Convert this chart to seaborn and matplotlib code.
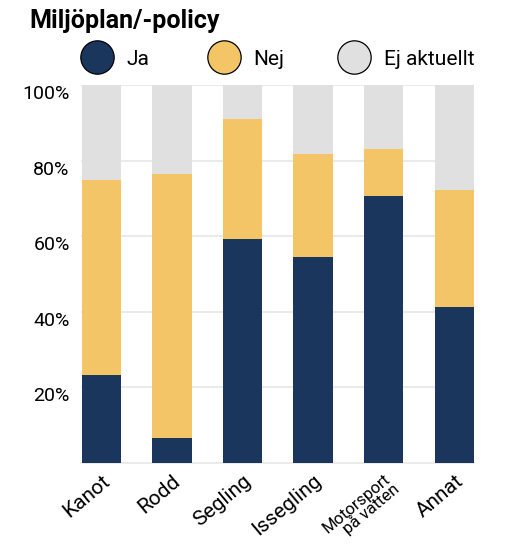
import matplotlib
matplotlib.use("Agg")
import matplotlib.pyplot as plt
from matplotlib.lines import Line2D
import seaborn as sns
import pandas as pd

categories = ["Kanot", "Rodd", "Segling", "Issegling", "Motorsport\npå vatten", "Annat"]
ja = [23.2, 6.5, 59.2, 54.4, 70.6, 41.2]
nej = [51.7, 70.0, 31.9, 27.4, 12.6, 31.0]
ej = [25.1, 23.5, 8.9, 18.2, 16.8, 27.8]
series_names = ["Ja", "Nej", "Ej aktuellt"]
colors = ["#1B365D", "#F4C566", "#E0E0E0"]
yticks = [20, 40, 60, 80, 100]
title = "Miljöplan/-policy"

sns.set_style("white")
plt.rcParams["font.family"] = ["Roboto", "DejaVu Sans"]
plt.rcParams["text.color"] = "black"
plt.rcParams["xtick.color"] = "black"
plt.rcParams["ytick.color"] = "black"

df = pd.DataFrame({"cat": categories, "ja": ja, "nej": nej, "ej": ej})
df["c1"] = df["ja"]
df["c2"] = df["ja"] + df["nej"]
df["c3"] = df["ja"] + df["nej"] + df["ej"]

fig = plt.figure(figsize=(5.05, 5.46), dpi=100)
ax = fig.add_axes([0.160, 0.1526, 0.779, 0.691])

for col, c in zip(["c3", "c2", "c1"], colors[::-1]):
    sns.barplot(data=df, x="cat", y=col, color=c, width=0.557, ax=ax,
                saturation=1, zorder=3, linewidth=0, edgecolor=c)

ax.set_ylim(0, 100)
ax.set_xlim(-0.29, 5.28)
ax.set_yticks(yticks)
ax.set_yticklabels([f"{v}%" for v in yticks], fontsize=14, va="top", color="black")
ax.yaxis.grid(True, color="#E6E6E6", linewidth=1.2, zorder=0)
ax.set_axisbelow(True)
ax.set_xlabel("")
ax.set_ylabel("")
for s in ["top", "right", "left"]:
    ax.spines[s].set_visible(False)
ax.spines["bottom"].set_color("#E6E6E6")
ax.spines["bottom"].set_linewidth(1.2)
ax.tick_params(axis="both", length=0, labelcolor="black")
ax.tick_params(axis="y", pad=8)
ax.tick_params(axis="x", pad=6)

labels = ax.get_xticklabels()
for lab in labels:
    lab.set_rotation(40)
    lab.set_ha("right")
    lab.set_rotation_mode("anchor")
    lab.set_fontsize(15)
    lab.set_color("black")
    if "\n" in lab.get_text():
        lab.set_fontsize(12)
        lab.set_linespacing(0.8)

fig.text(0.058, 0.962, title, fontsize=18, fontweight="bold", va="center", ha="left",
         color="black")

# legend: one entry per legend box, fixed column positions
W = 505.0
handle_lefts = [98 - 21.5, 225 - 21.5, 355 - 21.5]
for name, c, xl in zip(series_names, colors, handle_lefts):
    h = Line2D([0], [0], marker="o", linestyle="", markersize=24,
               markerfacecolor=c, markeredgecolor="black", markeredgewidth=0.9)
    leg = fig.legend([h], [name], loc="center left", bbox_to_anchor=(xl / W, 1 - 59 / 546.0),
                     frameon=False, fontsize=15, handletextpad=0.4, handlelength=2,
                     borderpad=0, borderaxespad=0)
    for t in leg.get_texts():
        t.set_color("black")

fig.savefig("out.png", dpi=100)
